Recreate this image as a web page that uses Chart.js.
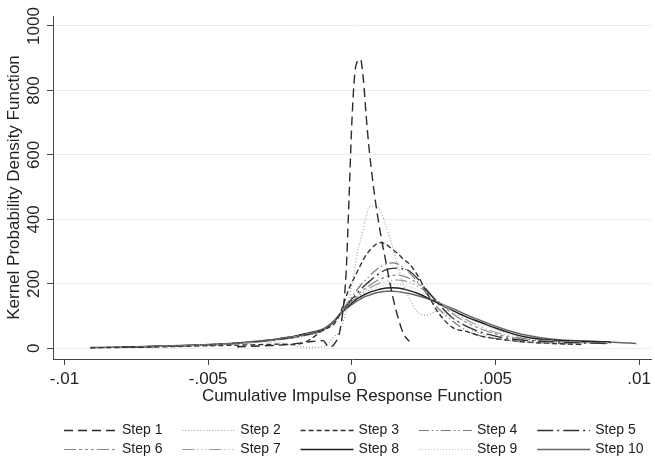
<!DOCTYPE html>
<html>
<head>
<meta charset="utf-8">
<script src="https://cdn.jsdelivr.net/npm/chart.js@4"></script>
<style>
  html, body { margin: 0; padding: 0; background: #fff; }
  canvas { display: block; }
</style>
</head>
<body>
<canvas id="kdensity" width="655" height="461"></canvas>
<script>
// x positions shared by all series (cumulative IRF values)
const xGrid = [-0.0091, -0.008, -0.007, -0.006, -0.005, -0.004, -0.003, -0.0025, -0.002, -0.0015,
  -0.001, -0.0008, -0.0006, -0.0004, -0.0002, -0.0001, 0, 0.0001, 0.0002, 0.0003,
  0.0004, 0.0005, 0.0006, 0.0008, 0.001, 0.0012, 0.0014, 0.0016, 0.0018, 0.002,
  0.0023, 0.0026, 0.003, 0.0035, 0.004, 0.0045, 0.005, 0.0055, 0.006, 0.007,
  0.008, 0.009, 0.0099];

// kernel density per step (null = curve not drawn there)
const step1 = [null, null, null, null, null, 5, 8, 10, 14, 20,
  24, 4, 15, 62, 233, 460, 700, 850, 892, 897,
  835, 720, 620, 470, 355, 262, 170, 98, 45, 22,
  null, null, null, null, null, null, null, null, null, null,
  null, null, null];
const step2 = [null, null, 5, 8, 10, 15, 20, 18, 8, 3,
  5, 18, 38, 55, 115, 150, 200, 245, 300, 335,
  372, 408, 438, 442, 425, 375, 320, 255, 195, 155,
  112, 103, 115, 95, 65, 45, 32, 25, 20, 14,
  null, null, null];
const step3 = [2, 3, 4, 6, 8, 10, 12, 13, 12, 25,
  57, 65, 78, 110, 160, 185, 205, 222, 240, 258,
  275, 290, 302, 320, 328, 322, 308, 294, 276, 262,
  225, 175, 112, 65, 52, 38, 30, 25, 20, 15,
  12, null, null];
const step4 = [3, 4, 6, 8, 11, 15, 22, 27, 33, 42,
  55, 68, 85, 108, 135, 148, 160, 172, 184, 195,
  205, 214, 223, 240, 253, 262, 265, 262, 250, 235,
  205, 170, 125, 85, 55, 38, 30, 24, 20, 16,
  13, null, null];
const step5 = [null, 4, 6, 8, 11, 16, 23, 28, 34, 43,
  56, 68, 84, 106, 130, 142, 153, 163, 173, 182,
  191, 199, 207, 222, 235, 244, 248, 249, 246, 240,
  215, 182, 140, 95, 68, 50, 38, 30, 25, 20,
  17, 15, null];
const step6 = [2, 4, 5, 8, 11, 16, 24, 29, 36, 45,
  57, 70, 86, 107, 128, 138, 148, 157, 166, 174,
  181, 188, 194, 206, 215, 222, 226, 227, 224, 217,
  200, 178, 145, 108, 80, 60, 45, 35, 28, 21,
  18, 16, null];
const step7 = [2, 4, 5, 8, 11, 16, 24, 30, 37, 46,
  58, 70, 86, 107, 127, 136, 145, 153, 161, 168,
  175, 181, 186, 196, 203, 208, 211, 212, 210, 205,
  192, 175, 148, 115, 88, 66, 50, 39, 31, 23,
  19, 17, null];
const step8 = [null, 4, 6, 8, 11, 16, 24, 30, 37, 47,
  58, 70, 86, 108, 125, 133, 141, 148, 155, 160,
  165, 169, 173, 179, 184, 187, 188, 187, 184, 179,
  170, 158, 140, 118, 97, 80, 63, 48, 36, 25,
  22, 20, null];
const step9 = [2, 4, 5, 8, 11, 16, 24, 30, 37, 46,
  58, 70, 86, 107, 126, 135, 143, 151, 158, 164,
  170, 175, 180, 188, 194, 198, 200, 199, 196, 191,
  181, 167, 146, 120, 96, 76, 58, 44, 34, 24,
  20, 17, null];
const step10 = [2, 4, 6, 9, 12, 17, 25, 31, 38, 48,
  60, 72, 87, 106, 122, 129, 136, 142, 148, 153,
  158, 162, 165, 171, 175, 177, 177, 176, 173, 170,
  163, 155, 142, 124, 104, 86, 69, 54, 42, 28,
  23, 20, 15];

const stepLabels = ['Step 1', 'Step 2', 'Step 3', 'Step 4', 'Step 5',
  'Step 6', 'Step 7', 'Step 8', 'Step 9', 'Step 10'];
const stepValues = [step1, step2, step3, step4, step5, step6, step7, step8, step9, step10];

const xTicks = [-0.01, -0.005, 0, 0.005, 0.01];
const yTicks = [0, 200, 400, 600, 800, 1000];

// line looks, Stata s1mono-ish
const lineStyles = [
  { color: '#2b2b2b', width: 1.4, dash: [9, 5] },
  { color: '#9a9a9a', width: 1.1, dash: [1, 2] },
  { color: '#333333', width: 1.4, dash: [5, 3] },
  { color: '#7a7a7a', width: 1.2, dash: [10, 3, 1.5, 3, 1.5, 3] },
  { color: '#333333', width: 1.4, dash: [16, 4, 2, 4] },
  { color: '#888888', width: 1.2, dash: [12, 3, 3, 3, 3, 3, 3, 3] },
  { color: '#999999', width: 1.2, dash: [12, 3, 1, 3, 1, 3, 1, 3] },
  { color: '#222222', width: 1.5, dash: [] },
  { color: '#bbbbbb', width: 1.1, dash: [1, 2] },
  { color: '#666666', width: 1.5, dash: [] }
];

function toPoints(values) {
  let pts = [];
  for (let i = 0; i < xGrid.length; i++) {
    if (values[i] !== null) pts.push({ x: xGrid[i], y: values[i] });
  }
  return pts;
}

function fmtTick(v) {
  let s = String(+v.toFixed(4));
  return s.replace(/^(-?)0\./, '$1.');
}

Chart.defaults.font.family = '"Liberation Sans", Arial, sans-serif';
Chart.defaults.color = '#222';

// two-row legend like Stata's, columns lined up
const stataLegend = {
  id: 'stataLegend',
  afterDraw(chart) {
    const ctx = chart.ctx;
    chart.data.datasets.forEach((ds, i) => {
      let col = i % 5;
      let row = Math.floor(i / 5);
      let tx = 122 + col * 118.3;
      let y = 430 + row * 19;
      ctx.save();
      ctx.strokeStyle = ds.borderColor;
      ctx.lineWidth = ds.borderWidth;
      ctx.setLineDash(ds.borderDash);
      ctx.beginPath();
      ctx.moveTo(tx - 58, y + 0.5);
      ctx.lineTo(tx - 5, y + 0.5);
      ctx.stroke();
      ctx.setLineDash([]);
      ctx.fillStyle = '#222';
      ctx.font = '14px "Liberation Sans", Arial, sans-serif';
      ctx.textBaseline = 'middle';
      ctx.fillText(ds.label, tx, y);
      ctx.restore();
    });
  }
};

let ctx = document.getElementById('kdensity').getContext('2d');
let chart = new Chart(ctx, {
  type: 'line',
  data: {
    datasets: stepLabels.map((label, i) => ({
      label: label,
      data: toPoints(stepValues[i]),
      borderColor: lineStyles[i].color,
      borderWidth: lineStyles[i].width,
      borderDash: lineStyles[i].dash,
      fill: false,
      pointRadius: 0,
      cubicInterpolationMode: 'monotone'
    }))
  },
  options: {
    responsive: false,
    animation: false,
    devicePixelRatio: 1,
    layout: { padding: { top: 16, right: 0, bottom: 51, left: 0 } },
    plugins: {
      legend: { display: false },
      tooltip: { enabled: false }
    },
    scales: {
      x: {
        type: 'linear',
        min: -0.0104,
        max: 0.01042,
        afterFit: s => { s.height = 51; },
        afterBuildTicks: s => { s.ticks = xTicks.map(v => ({ value: v })); },
        ticks: {
          callback: v => fmtTick(v),
          font: { size: 17 },
          color: '#222',
          padding: 4,
          maxRotation: 0,
          autoSkip: false
        },
        grid: { drawOnChartArea: false, tickLength: 6, tickColor: '#444' },
        border: { color: '#444' },
        title: {
          display: true,
          text: 'Cumulative Impulse Response Function',
          font: { size: 17 },
          color: '#222',
          padding: { top: 0, bottom: 3 }
        }
      },
      y: {
        min: -33,
        max: 1031,
        afterFit: s => { s.width = 53; },
        afterBuildTicks: s => { s.ticks = yTicks.map(v => ({ value: v })); },
        ticks: {
          callback: v => String(v),
          minRotation: 90,
          maxRotation: 90,
          crossAlign: 'center',
          padding: -6,
          font: { size: 17 },
          color: '#222'
        },
        grid: { color: '#ebebeb', tickLength: 6, tickColor: '#444' },
        border: { color: '#444' },
        title: {
          display: true,
          text: 'Kernel Probability Density Function',
          font: { size: 17 },
          color: '#222',
          padding: { top: 4, bottom: 0 }
        }
      }
    }
  },
  plugins: [stataLegend]
});
</script>
</body>
</html>
